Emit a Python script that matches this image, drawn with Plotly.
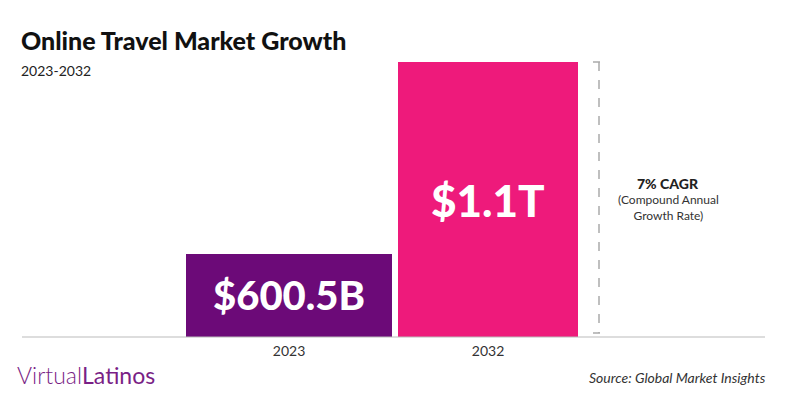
import plotly.graph_objects as go

years = ["2023", "2032"]
values = [600.5, 1100]          # billions USD
labels = ["$600.5B", "$1.1T"]
colors = ["#6c0a78", "#ee1a7b"]
widths = [1.035, 0.9]

W, H = 800, 400
OFF = 8  # page margin in the browser

px = lambda v: (v - OFF) / W
py = lambda v: 1 - (v - OFF) / H

Y0 = 384
base_px, top_px = 337, 62

fig = go.Figure()
fig.add_trace(go.Bar(
    x=[0, 1], y=values, width=widths,
    marker=dict(color=colors, line=dict(width=0)),
    hoverinfo="skip",
))

fig.update_layout(
    width=W, height=H, margin=dict(l=0, r=0, t=0, b=0),
    plot_bgcolor="white", paper_bgcolor="white", showlegend=False,
    bargap=0,
    xaxis=dict(range=[-(289 - OFF) / 199, (W - 289 + OFF) / 199], tickvals=[0, 1], ticktext=years,
               showgrid=False, zeroline=False, showline=False,
               tickfont=dict(family="Lato", size=14, color="#333"), ticklabelstandoff=4),
    yaxis=dict(range=[Y0, 1100], domain=[py(base_px), py(top_px)], visible=False),
    font=dict(family="Lato"),
)

# bar labels centred on the visible part of each bar
for i, (v, lab) in enumerate(zip(values, labels)):
    fig.add_annotation(x=i, y=(Y0 + v) / 2, xref="x", yref="y", text=lab,
                       showarrow=False, font=dict(family="Lato", size=[40, 44][i], color="white", weight=900))

# baseline
fig.add_shape(type="line", xref="paper", yref="paper", x0=px(22), x1=px(765),
              y0=py(337), y1=py(337), line=dict(color="#bbb", width=1))
# CAGR bracket
for yy in [62, 333]:
    fig.add_shape(type="line", xref="paper", yref="paper", x0=px(593), x1=px(600),
                  y0=py(yy), y1=py(yy), line=dict(color="#aaa", width=1.5))
fig.add_shape(type="line", xref="paper", yref="paper", x0=px(599), x1=px(599),
              y0=py(62), y1=py(333), line=dict(color="#aaa", width=1.5, dash="dash"))

ann = [
    dict(x=px(19), y=py(40), text="Online Travel Market Growth", size=25, color="#111", xanchor="left", weight=900),
    dict(x=px(19), y=py(70), text="2023-2032", size=14, color="#222", xanchor="left", weight=400),
    dict(x=px(668), y=py(183), text="7% CAGR", size=14, color="#222", xanchor="center", weight=900),
    dict(x=px(668), y=py(207), text="(Compound Annual<br>Growth Rate)", size=12, color="#333", xanchor="center", weight=400),
    dict(x=px(768), y=py(377), text="<i>Source: Global Market Insights</i>", size=14, color="#333", xanchor="right", weight=400),
    dict(x=px(15), y=py(375), text="Virtual<span style='font-weight:400'>Latinos</span>", size=23, color="#7a1f86", xanchor="left", weight=300),
]
for a in ann:
    fig.add_annotation(xref="paper", yref="paper", x=a["x"], y=a["y"], text=a["text"],
                       showarrow=False, xanchor=a["xanchor"], yanchor="middle",
                       font=dict(family="Lato", size=a["size"], color=a["color"], weight=a["weight"]))

fig.write_html("out.html")
